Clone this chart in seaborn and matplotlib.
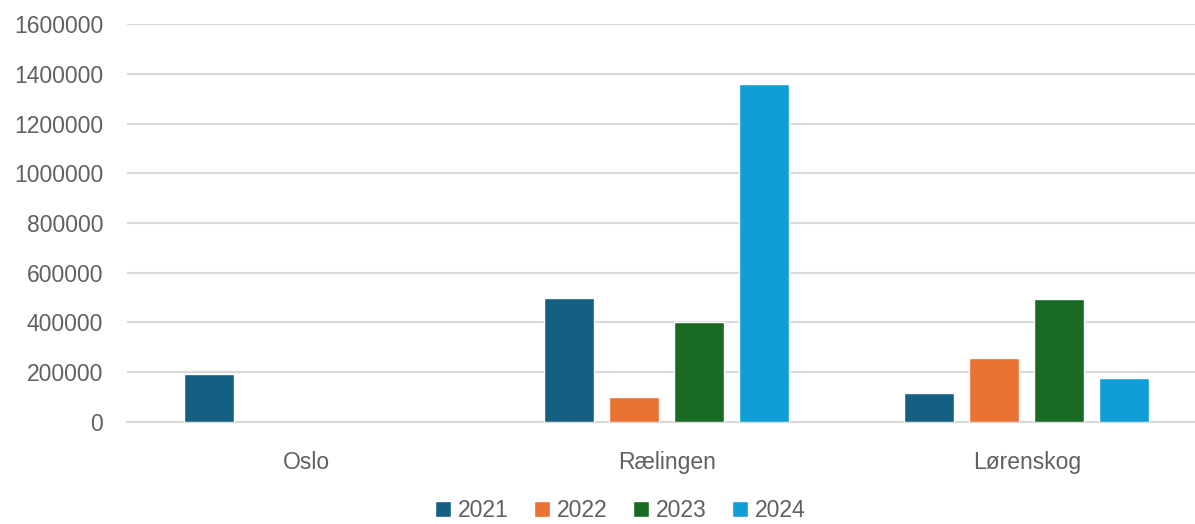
import pandas as pd
import numpy as np
import matplotlib.pyplot as plt
import seaborn as sns

# data
kommuner = ["Oslo", "Rælingen", "Lørenskog"]
years = ["2021", "2022", "2023", "2024"]
v2021 = [193000, 500000, 115000]
v2022 = [np.nan, 100000, 255000]
v2023 = [np.nan, 400000, 495000]
v2024 = [np.nan, 1360000, 178000]
yticks = [0, 200000, 400000, 600000, 800000, 1000000, 1200000, 1400000, 1600000]

COLORS = {"2021": "#156082", "2022": "#E97132", "2023": "#196B24", "2024": "#0F9ED5"}

df = pd.DataFrame({"Kommune": kommuner, "2021": v2021, "2022": v2022,
                   "2023": v2023, "2024": v2024})
long = df.melt(id_vars="Kommune", var_name="År", value_name="Beløp")

sns.set_theme(style="white")
plt.rcParams["font.family"] = ["Liberation Sans", "DejaVu Sans"]

fig = plt.figure(figsize=(11.95, 5.24), dpi=100)
ax = fig.add_axes([0.106, 0.195, 0.904, 0.759])

sns.barplot(data=long, x="Kommune", y="Beløp", hue="År", order=kommuner,
            hue_order=years, palette=COLORS, width=0.722, gap=0.23,
            saturation=1, ax=ax, legend=True, zorder=3)

ax.set_ylim(0, 1600000)
ax.set_xlim(-0.5, 2.5)
ax.set_yticks(yticks)
ax.set_yticklabels([str(t) for t in yticks])
ax.yaxis.grid(True, color="#d9d9d9", lw=1.5, zorder=0)
ax.set_axisbelow(True)
for s in ["top", "right", "left"]:
    ax.spines[s].set_visible(False)
ax.spines["bottom"].set_color("#d9d9d9")
ax.spines["bottom"].set_linewidth(1.5)
ax.tick_params(axis="y", length=0, pad=17, labelsize=16.5, labelcolor="#606060")
ax.tick_params(axis="x", length=0, pad=21, labelsize=16.5, labelcolor="#606060")
ax.set_xlabel("")
ax.set_ylabel("")

handles, labels = ax.get_legend_handles_labels()
ax.get_legend().remove()
fig.legend(handles, labels, loc="center", bbox_to_anchor=(0.519, 0.026), ncol=4,
           frameon=False, fontsize=16.5, labelcolor="#606060", handlelength=0.7,
           handleheight=0.7, handletextpad=0.3, columnspacing=1.1,
           borderpad=0.1)

fig.savefig("out.png", dpi=100)
plt.close()
